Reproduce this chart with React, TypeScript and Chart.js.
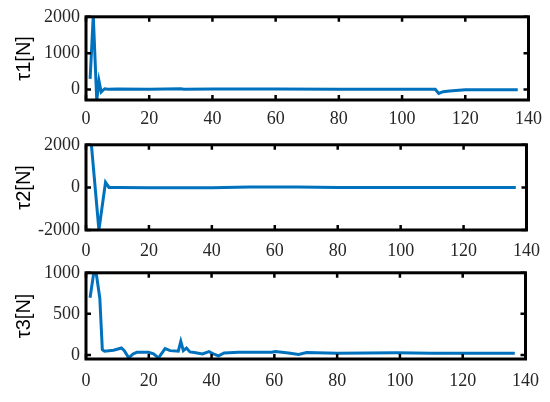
import React, { useEffect, useRef } from "react";
import { Chart, registerables } from "chart.js";

Chart.register(...registerables);

// ---- data ----
const t1X = [1.3, 2.3, 3.4, 4.1, 4.8, 5.9, 7, 10, 20, 30, 31, 40, 60, 80, 100, 110.5, 111.6, 113, 115, 118, 120, 136.6];
const t1Y = [290, 2030, -300, 240, -70, 20, 5, 10, 5, 20, 5, 10, 10, 5, 5, 5, -110, -60, -40, -20, -5, -5];

const t2X = [1, 4.1, 6.2, 7.3, 10, 20, 30, 40, 52, 60, 67, 80, 100, 120, 136.6];
const t2Y = [3200, -2000, 240, 0, -10, -20, -20, -20, 20, 20, 20, -10, 0, 0, 0];

const t3X = [1.3, 2.5, 3.2, 4.4, 5.2, 5.9, 8.8, 11.3, 12.2, 13.6, 15, 16.2, 19.9, 21.5, 23.1, 25.2, 26.8, 29.4, 30.2, 31, 32, 33.1, 34.5, 37.1, 39.2, 40.8, 42.2, 44, 48.7, 59.2, 60.3, 64.5, 67.7, 70.3, 80, 99, 110, 136.6];
const t3Y = [695, 1010, 1010, 690, 64, 45, 56, 84, 52, -36, 12, 32, 32, 12, -36, 76, 52, 45, 165, 52, 84, 36, 28, 12, 40, 8, -12, 24, 32, 32, 40, 24, 4, 28, 20, 25, 20, 20];

const xTicks = [0, 20, 40, 60, 80, 100, 120, 140];
const t1Ticks = [0, 1000, 2000];
const t2Ticks = [-2000, 0, 2000];
const t3Ticks = [0, 500, 1000];
const yTitles = ["τ1[N]", "τ2[N]", "τ3[N]"];
const yRanges = [
  [-290, 2000],
  [-2000, 2000],
  [-50, 1000],
];

const LINE = "#0072BD";
const TEXT = "#262626";

const boxPlugin = {
  id: "matlabBox",
  afterDraw(chart: any) {
    const { ctx, chartArea: a, scales } = chart;
    ctx.save();
    ctx.strokeStyle = "#000";
    ctx.lineWidth = 2.5;
    ctx.beginPath();
    for (const t of scales.x.ticks) {
      const px = scales.x.getPixelForValue(t.value);
      ctx.moveTo(px, a.bottom);
      ctx.lineTo(px, a.bottom - 5);
      ctx.moveTo(px, a.top);
      ctx.lineTo(px, a.top + 5);
    }
    for (const t of scales.y.ticks) {
      const py = scales.y.getPixelForValue(t.value);
      ctx.moveTo(a.left, py);
      ctx.lineTo(a.left + 5, py);
      ctx.moveTo(a.right, py);
      ctx.lineTo(a.right - 5, py);
    }
    ctx.stroke();
    ctx.lineWidth = 3;
    ctx.strokeRect(a.left, a.top, a.right - a.left, a.bottom - a.top);
    ctx.restore();
  },
};

type PanelProps = {
  xs: number[];
  ys: number[];
  yTicks: number[];
  title: string;
  range: number[];
  top: number;
  height: number;
  padTop: number;
  xh: number;
  tickPad: number;
};

function Panel(p: PanelProps) {
  const ref = useRef<HTMLCanvasElement | null>(null);
  useEffect(() => {
    if (!ref.current) return;
    const tickFont = { family: "'Liberation Serif', 'Times New Roman', serif", size: 18 };
    const chart = new Chart(ref.current, {
      type: "line",
      data: {
        datasets: [
          {
            data: p.xs.map((x, i) => ({ x, y: p.ys[i] })),
            borderColor: LINE,
            borderWidth: 3,
            pointRadius: 0,
            tension: 0,
            clip: 0,
            fill: false,
          } as any,
        ],
      },
      options: {
        responsive: false,
        animation: false,
        events: [],
        layout: { padding: { top: p.padTop, right: 21, left: 0, bottom: 0 } },
        plugins: { legend: { display: false }, tooltip: { enabled: false } },
        scales: {
          x: {
            type: "linear",
            min: 0,
            max: 140,
            afterBuildTicks: (s: any) => {
              s.ticks = xTicks.map((v) => ({ value: v }));
            },
            afterFit: (s: any) => {
              s.height = p.xh;
            },
            grid: { display: false, drawTicks: false },
            border: { display: false },
            ticks: {
              font: tickFont,
              color: TEXT,
              padding: p.tickPad,
              maxRotation: 0,
              autoSkip: false,
              callback: (v: any) => String(v),
            },
          },
          y: {
            type: "linear",
            min: p.range[0],
            max: p.range[1],
            afterBuildTicks: (s: any) => {
              s.ticks = p.yTicks.map((v) => ({ value: v }));
            },
            afterFit: (s: any) => {
              s.width = 86;
            },
            grid: { display: false, drawTicks: false },
            border: { display: false },
            ticks: {
              font: tickFont,
              color: TEXT,
              padding: 6,
              autoSkip: false,
              callback: (v: any) => String(v),
            },
            title: {
              display: true,
              text: p.title,
              color: "#000",
              font: { family: "'Liberation Sans', Arial, sans-serif", size: 20 },
              padding: { top: 12, bottom: 0 },
            },
          },
        },
      } as any,
      plugins: [boxPlugin],
    });
    return () => chart.destroy();
  }, []);
  return (
    <canvas
      ref={ref}
      width={550}
      height={p.height}
      style={{ position: "absolute", left: 0, top: p.top, display: "block" }}
    />
  );
}

export default function App() {
  return (
    <div style={{ position: "absolute", left: 0, top: 0, width: 550, height: 402, background: "#fff" }}>
      <Panel xs={t1X} ys={t1Y} yTicks={t1Ticks} title={yTitles[0]} range={yRanges[0]} top={0} height={128} padTop={14} xh={28} tickPad={8} />
      <Panel xs={t2X} ys={t2Y} yTicks={t2Ticks} title={yTitles[1]} range={yRanges[1]} top={128} height={128} padTop={14} xh={26} tickPad={10} />
      <Panel xs={t3X} ys={t3Y} yTicks={t3Ticks} title={yTitles[2]} range={yRanges[2]} top={256} height={146} padTop={16} xh={43} tickPad={11} />
    </div>
  );
}
